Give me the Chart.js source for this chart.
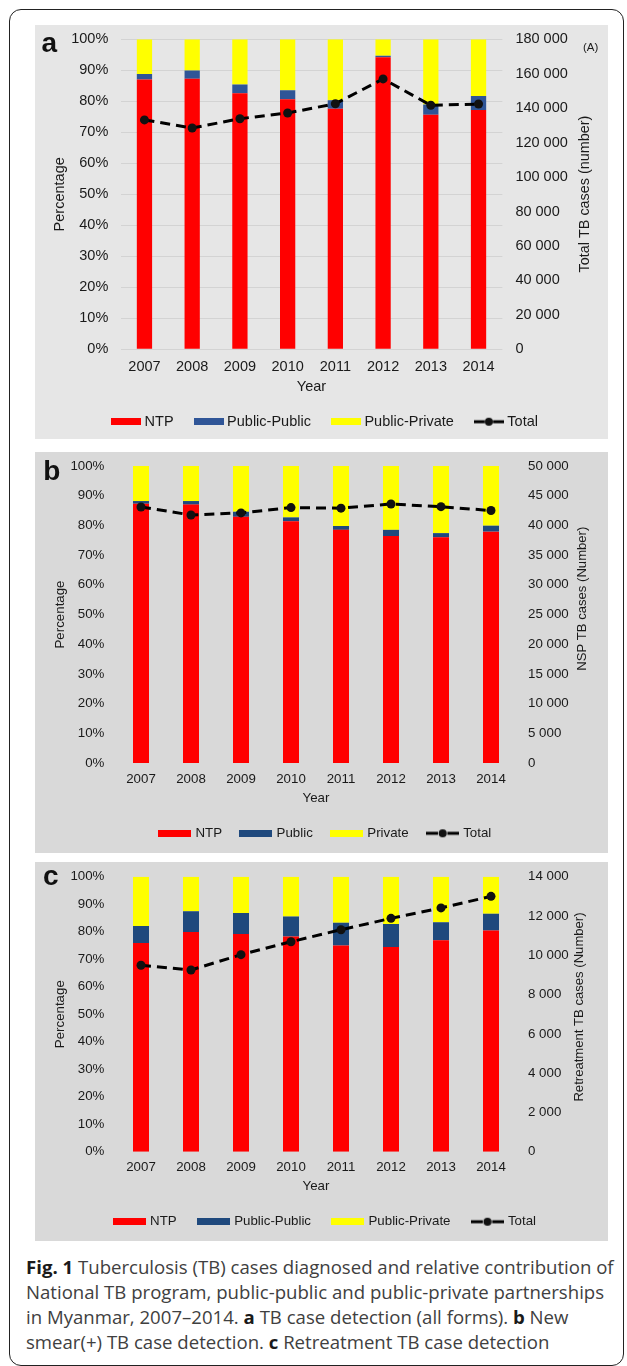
<!DOCTYPE html>
<html><head><meta charset="utf-8">
<script src="https://cdn.jsdelivr.net/npm/chart.js@4.4.1/dist/chart.umd.min.js"></script>
<style>
html,body{margin:0;padding:0;background:#fff;}
body{width:627px;height:1366px;position:relative;overflow:hidden;}
#frame{position:absolute;left:9px;top:9px;width:615px;height:1357px;border:1.5px solid #222;border-radius:12px;box-sizing:border-box;}
.panel{position:absolute;left:35px;width:573px;}
.panel canvas{display:block;}
#pa{top:25px;height:414px;background:#e6e6e6;}
#pb{top:452px;height:401px;background:#d9d9d9;}
#pc{top:862px;height:379px;background:#d9d9d9;}
.cap{position:absolute;left:26px;font-family:'Open Sans',sans-serif;font-size:18.6px;line-height:25px;color:#404040;white-space:nowrap;}
.cap b{color:#1a1a1a;font-weight:700;}
</style></head><body>
<div id="frame"></div>
<div class="panel" id="pa"><canvas id="ca" width="573" height="414" style="width:573px;height:414px"></canvas></div>
<div class="panel" id="pb"><canvas id="cb" width="573" height="401" style="width:573px;height:401px"></canvas></div>
<div class="panel" id="pc"><canvas id="cc" width="573" height="379" style="width:573px;height:379px"></canvas></div>
<div class="cap" style="top:1253.5px"><b>Fig. 1</b> Tuberculosis (TB) cases diagnosed and relative contribution of</div>
<div class="cap" style="top:1278.5px">National TB program, public-public and public-private partnerships</div>
<div class="cap" style="top:1303.5px">in Myanmar, 2007–2014. <b>a</b> TB case detection (all forms). <b>b</b> New</div>
<div class="cap" style="top:1328.5px">smear(+) TB case detection. <b>c</b> Retreatment TB case detection</div>
<script>
// ---------- DATA ----------
const years = ['2007','2008','2009','2010','2011','2012','2013','2014'];

const aNTP           = [87.0, 87.3, 82.6, 80.7, 77.6, 94.2, 75.7, 77.2];
const aPublicPublic  = [1.8, 2.6, 2.8, 2.9, 2.7, 0.5, 3.3, 4.5];
const aPublicPrivate = [11.2, 10.1, 14.6, 16.4, 19.7, 5.3, 21.0, 18.3];
const aTotal         = [133200, 128500, 133900, 137200, 142600, 157000, 141700, 142400];

const bNTP     = [87.3, 87.0, 82.9, 81.4, 78.5, 76.4, 76.0, 77.9];
const bPublic  = [0.9, 1.2, 1.7, 1.3, 1.3, 2.1, 1.4, 2.0];
const bPrivate = [11.8, 11.8, 15.4, 17.3, 20.2, 21.5, 22.6, 20.1];
const bTotal   = [43100, 41750, 42100, 43000, 42900, 43600, 43150, 42500];

const cNTP           = [75.9, 79.9, 79.2, 78.3, 75.0, 74.4, 76.9, 80.4];
const cPublicPublic  = [6.2, 7.5, 7.6, 7.2, 8.3, 8.4, 6.5, 6.1];
const cPublicPrivate = [17.9, 12.6, 13.2, 14.5, 16.7, 17.2, 16.6, 13.5];
const cTotal         = [9490, 9250, 10030, 10690, 11300, 11880, 12410, 13000];

const legendA = ['NTP', 'Public-Public', 'Public-Private', 'Total'];
const legendB = ['NTP', 'Public', 'Private', 'Total'];
const legendC = ['NTP', 'Public-Public', 'Public-Private', 'Total'];

const pctAxis = {min: 0, max: 100, step: 10};
const rightAxisA = {min: 0, max: 180000, step: 20000};
const rightAxisB = {min: 0, max: 50000, step: 5000};
const rightAxisC = {min: 0, max: 14000, step: 2000};

// ---------- STYLE ----------
const FONT = "'Liberation Sans', Arial, Helvetica, sans-serif";
const TXT = '#1a1a1a';
Chart.defaults.font.family = FONT;
Chart.defaults.color = TXT;

function fmtThousands(v){
  const s = Math.round(v).toString();
  return s.replace(/\B(?=(\d{3})+(?!\d))/g, ' ');
}

function boxGlyph(color, w, h){
  const c = document.createElement('canvas'); c.width = w; c.height = h;
  const g = c.getContext('2d'); g.fillStyle = color; g.fillRect(0, 0, w, h);
  return c;
}
function lineGlyph(w){
  const h = 10;
  const c = document.createElement('canvas'); c.width = w; c.height = h;
  const g = c.getContext('2d');
  g.strokeStyle = '#000'; g.lineWidth = 3;
  g.beginPath(); g.moveTo(0, h/2); g.lineTo(w*0.36, h/2); g.stroke();
  g.beginPath(); g.moveTo(w*0.64, h/2); g.lineTo(w, h/2); g.stroke();
  g.fillStyle = '#111'; g.beginPath(); g.arc(w/2, h/2, 4, 0, Math.PI*2); g.fill();
  return c;
}

const extrasPlugin = {
  id: 'extras',
  afterDraw(chart, args, o){
    const ctx = chart.ctx;
    ctx.save();
    ctx.fillStyle = '#111';
    ctx.textAlign = 'left'; ctx.textBaseline = 'alphabetic';
    ctx.font = 'bold 28px ' + FONT;
    ctx.fillText(o.letter, o.letterX, o.letterY);
    if (o.note){
      ctx.fillStyle = TXT;
      ctx.font = o.noteSize + 'px ' + FONT; ctx.textBaseline = 'middle';
      ctx.fillText(o.note, o.noteX, o.noteY);
    }
    ctx.fillStyle = TXT;
    ctx.translate(o.rtX, o.rtY); ctx.rotate(-Math.PI/2);
    ctx.font = o.rtSize + 'px ' + FONT; ctx.textAlign = 'center'; ctx.textBaseline = 'middle';
    ctx.fillText(o.rightTitle, 0, 0);
    ctx.restore();
  }
};

function makeChart(id, P){
  const fs = P.fs, lh = fs * 1.2;
  const font = {family: FONT, size: fs};
  const legendH = fs + P.lp + 10;
  const xBottom = P.H - P.Pb - legendH;
  const xHeight = xBottom - P.bottom;
  const xTickPad = P.xTickCenter - P.bottom - lh/2;
  const xTitlePadBottom = xBottom - lh/2 - P.xTitleCenter;
  const yTitlePadTop = P.yTitleX - P.Pl - lh/2;
  const leftW = P.left - P.Pl;
  const rightW = P.W - P.right - P.Pr;
  const zeroPad = s => { s.paddingTop = 0; s.paddingBottom = 0; s.paddingLeft = 0; s.paddingRight = 0; };

  const glyphs = [
    boxGlyph('#ff0000', P.glyphW, P.glyphH),
    boxGlyph(P.blue, P.glyphW, P.glyphH),
    boxGlyph('#ffff00', P.glyphW, P.glyphH),
    lineGlyph(P.glyphW)
  ];

  return new Chart(document.getElementById(id), {
    type: 'bar',
    data: {
      labels: years,
      datasets: [
        {type: 'line', label: P.names[3], data: P.total, yAxisID: 'y2', order: 0,
         borderColor: '#000', borderWidth: 3, borderDash: [10, 6], fill: false, tension: 0,
         pointRadius: 4.5, pointBackgroundColor: '#111', pointBorderColor: '#111', pointBorderWidth: 0},
        {label: P.names[0], data: P.s1, backgroundColor: '#ff0000', yAxisID: 'y', stack: 's', order: 1,
         barPercentage: 0.32, categoryPercentage: 1},
        {label: P.names[1], data: P.s2, backgroundColor: P.blue, yAxisID: 'y', stack: 's', order: 1,
         barPercentage: 0.32, categoryPercentage: 1},
        {label: P.names[2], data: P.s3, backgroundColor: '#ffff00', yAxisID: 'y', stack: 's', order: 1,
         barPercentage: 0.32, categoryPercentage: 1}
      ]
    },
    options: {
      responsive: false, animation: false, devicePixelRatio: 1,
      layout: {padding: {left: P.Pl, right: P.Pr, top: P.top, bottom: P.Pb}},
      plugins: {
        tooltip: {enabled: false},
        legend: {
          position: 'bottom', align: 'center',
          labels: {
            usePointStyle: true, pointStyleWidth: P.bw, padding: P.lp, font: font, color: TXT,
            generateLabels: () => P.names.map((n, i) => ({
              text: n, pointStyle: glyphs[i], fontColor: TXT, hidden: false,
              datasetIndex: i === 3 ? 0 : i + 1, lineWidth: 0,
              fillStyle: 'rgba(0,0,0,0)', strokeStyle: 'rgba(0,0,0,0)'
            }))
          }
        },
        extras: P.extras
      },
      scales: {
        x: {
          stacked: true,
          grid: {display: false, drawTicks: false},
          border: {display: false},
          ticks: {font: font, color: TXT, padding: xTickPad, maxRotation: 0, autoSkip: false},
          title: {display: true, text: 'Year', font: font, color: TXT, padding: {top: 0, bottom: xTitlePadBottom}},
          afterFit: s => { s.height = xHeight; zeroPad(s); }
        },
        y: {
          position: 'left', stacked: true, min: pctAxis.min, max: pctAxis.max,
          grid: {display: P.grid, color: P.gridColor, lineWidth: 1, drawTicks: false},
          border: {display: false},
          ticks: {stepSize: pctAxis.step, font: font, color: TXT, padding: P.yTickPad,
                  callback: v => v + '%'},
          title: {display: true, text: 'Percentage', font: font, color: TXT, padding: {top: yTitlePadTop, bottom: 0}},
          afterFit: s => { s.width = leftW; zeroPad(s); }
        },
        y2: {
          position: 'right', stacked: false, min: P.rAxis.min, max: P.rAxis.max,
          grid: {display: false, drawTicks: false},
          border: {display: false},
          ticks: {stepSize: P.rAxis.step, font: font, color: TXT, padding: P.y2TickPad,
                  callback: v => fmtThousands(v)},
          afterFit: s => { s.width = rightW; zeroPad(s); }
        }
      }
    },
    plugins: [extrasPlugin]
  });
}

makeChart('ca', {
  H: 414, W: 573, fs: 14.5, top: 14.3, bottom: 324.3, left: 85.6, right: 467.4,
  Pl: 9.8, Pr: 0, Pb: 0, lp: 23.75, bw: 22.5, glyphW: 30, glyphH: 7,
  xTickCenter: 341.7, xTitleCenter: 361.7, yTitleX: 25, yTickPad: 12.3, y2TickPad: 13,
  grid: true, gridColor: '#d3d3d3', blue: '#2f5597',
  names: legendA, s1: aNTP, s2: aPublicPublic, s3: aPublicPrivate, total: aTotal, rAxis: rightAxisA,
  extras: {letter: 'a', letterX: 6.5, letterY: 26.5, note: '(A)', noteSize: 11.5, noteX: 548, noteY: 22.5,
           rightTitle: 'Total TB cases (number)', rtX: 550.3, rtY: 169, rtSize: 14.4}
});
makeChart('cb', {
  H: 401, W: 573, fs: 13.3, top: 14, bottom: 311, left: 81, right: 481,
  Pl: 8.9, Pr: 0, Pb: 3.05, lp: 19.65, bw: 28.2, glyphW: 33.5, glyphH: 7,
  xTickCenter: 327.3, xTitleCenter: 346, yTitleX: 25, yTickPad: 11.6, y2TickPad: 12,
  grid: false, gridColor: '#cccccc', blue: '#1f497d',
  names: legendB, s1: bNTP, s2: bPublic, s3: bPrivate, total: bTotal, rAxis: rightAxisB,
  extras: {letter: 'b', letterX: 8.2, letterY: 28,
           rightTitle: 'NSP TB cases (Number)', rtX: 547.7, rtY: 146.7, rtSize: 13.1}
});
makeChart('cc', {
  H: 379, W: 573, fs: 13.3, top: 14.7, bottom: 289.7, left: 81, right: 481,
  Pl: 8.3, Pr: 0, Pb: 2.65, lp: 22.6, bw: 28.2, glyphW: 33.5, glyphH: 7,
  xTickCenter: 305.3, xTitleCenter: 324.7, yTitleX: 25, yTickPad: 11.6, y2TickPad: 12,
  grid: false, gridColor: '#cccccc', blue: '#1f497d',
  names: legendC, s1: cNTP, s2: cPublicPublic, s3: cPublicPrivate, total: cTotal, rAxis: rightAxisC,
  extras: {letter: 'c', letterX: 8, letterY: 23,
           rightTitle: 'Retreatment TB cases (Number)', rtX: 544.6, rtY: 145, rtSize: 13.1}
});
</script>
</body></html>
